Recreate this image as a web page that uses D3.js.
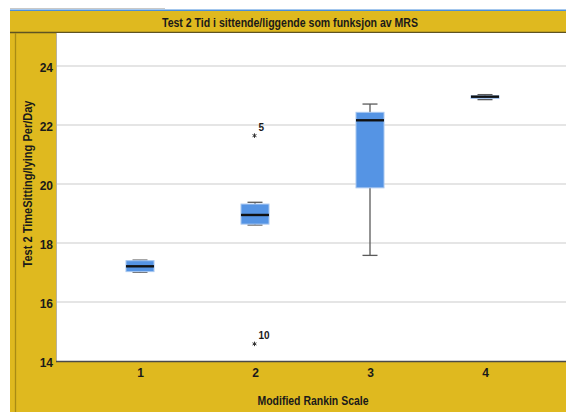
<!DOCTYPE html>
<html>
<head>
<meta charset="utf-8">
<script src="https://cdn.jsdelivr.net/npm/d3@7"></script>
<style>
  html, body { margin: 0; padding: 0; background: #ffffff; }
  svg { display: block; }
  text { font-family: "Liberation Sans", Arial, sans-serif; fill: #1a1a1a; }
</style>
</head>
<body>
<script>
// Modified Rankin Scale groups and five-number summaries per group
const categories = ["1", "2", "3", "4"];
const whiskerLow = [17.01, 18.61, 17.58, 22.86];
const quartile1 = [17.03, 18.64, 19.87, 22.90];
const medians = [17.21, 18.95, 22.16, 22.96];
const quartile3 = [17.40, 19.32, 22.43, 22.99];
const whiskerHigh = [17.42, 19.38, 22.71, 23.03];

// Extreme values (case numbers shown next to the markers)
const outlierCategories = ["2", "2"];
const outlierValues = [21.64, 14.58];
const outlierLabels = ["5", "10"];

const yTicks = [14, 16, 18, 20, 22, 24];

const titleText = "Test 2 Tid i sittende/liggende som funksjon av MRS";
const xTitleText = "Modified Rankin Scale";
const yTitleText = "Test 2 TimeSitting/lying Per/Day";

const W = 566, H = 412;
const frameColor = "#dfb91f";
const plot = { left: 57, right: 566, top: 33, bottom: 361 };

const svg = d3.select("body").append("svg").attr("width", W).attr("height", H);

svg.append("rect").attr("width", W).attr("height", H).attr("fill", "#ffffff");

// Outer yellow frame
svg.append("rect").attr("x", 10).attr("y", 11).attr("width", W - 10).attr("height", H - 11)
  .attr("fill", frameColor);
// Thin lines above the title bar
svg.append("line").attr("x1", 10).attr("x2", 165).attr("y1", 8.5).attr("y2", 8.5)
  .attr("stroke", "#c8c8c8").attr("stroke-width", 1);
svg.append("line").attr("x1", 10).attr("x2", W).attr("y1", 10.2).attr("y2", 10.2)
  .attr("stroke", "#4a8fdc").attr("stroke-width", 1.6);
// Title bar bottom edge
svg.append("line").attr("x1", 10).attr("x2", W).attr("y1", 32.5).attr("y2", 32.5)
  .attr("stroke", "#5e5322").attr("stroke-width", 1.5);
// Darker vertical rule in the left strip
svg.append("line").attr("x1", 15.5).attr("x2", 15.5).attr("y1", 33).attr("y2", H)
  .attr("stroke", "#a98c14").attr("stroke-width", 1.3);

// Plot area
svg.append("rect").attr("x", plot.left).attr("y", plot.top)
  .attr("width", plot.right - plot.left).attr("height", plot.bottom - plot.top)
  .attr("fill", "#ffffff");
svg.append("line").attr("x1", plot.left - 0.5).attr("x2", plot.left - 0.5)
  .attr("y1", plot.top).attr("y2", plot.bottom)
  .attr("stroke", "#b9b29a").attr("stroke-width", 1);

const y = d3.scaleLinear().domain([14, 24]).range([plot.bottom, 66]);
const x = d3.scalePoint().domain(categories).range([140, 485]);

// Horizontal gridlines
svg.append("g").selectAll("line").data(yTicks.filter(t => t > 14)).join("line")
  .attr("x1", plot.left).attr("x2", plot.right)
  .attr("y1", d => y(d)).attr("y2", d => y(d))
  .attr("stroke", "#dcdcdc").attr("stroke-width", 1.6);

// Bottom axis line
svg.append("line").attr("x1", plot.left - 1).attr("x2", plot.right)
  .attr("y1", plot.bottom + 0.5).attr("y2", plot.bottom + 0.5)
  .attr("stroke", "#4a4a4a").attr("stroke-width", 1.5);

// Y axis tick labels
const yAxis = d3.axisLeft(y).tickValues(yTicks).tickSize(0).tickPadding(0).tickFormat(d3.format("d"));
const gy = svg.append("g").attr("transform", `translate(53,2)`).call(yAxis);
gy.select(".domain").remove();
gy.selectAll("text").attr("font-size", 12).attr("font-weight", "bold")
  .attr("font-family", "Liberation Sans, Arial, sans-serif").attr("fill", "#1a1a1a");

// X axis tick labels
const xAxis = d3.axisBottom(x).tickSize(0).tickPadding(0);
const gx = svg.append("g").attr("transform", `translate(0,${plot.bottom + 7})`).call(xAxis);
gx.select(".domain").remove();
gx.selectAll("text").attr("font-size", 12).attr("font-weight", "bold")
  .attr("font-family", "Liberation Sans, Arial, sans-serif").attr("fill", "#1a1a1a");

// Box plots
const boxW = 28, capW = 15;
const groups = categories.map((c, i) => ({
  c, lo: whiskerLow[i], q1: quartile1[i], med: medians[i], q3: quartile3[i], hi: whiskerHigh[i]
}));
const g = svg.append("g").selectAll("g").data(groups).join("g");

g.append("line")
  .attr("x1", d => x(d.c)).attr("x2", d => x(d.c))
  .attr("y1", d => y(d.hi)).attr("y2", d => y(d.lo))
  .attr("stroke", "#5a5a5a").attr("stroke-width", 1.3);
g.append("line")
  .attr("x1", d => x(d.c) - capW / 2).attr("x2", d => x(d.c) + capW / 2)
  .attr("y1", d => y(d.hi)).attr("y2", d => y(d.hi))
  .attr("stroke", "#5a5a5a").attr("stroke-width", 1.3);
g.append("line")
  .attr("x1", d => x(d.c) - capW / 2).attr("x2", d => x(d.c) + capW / 2)
  .attr("y1", d => y(d.lo)).attr("y2", d => y(d.lo))
  .attr("stroke", "#5a5a5a").attr("stroke-width", 1.3);
g.append("rect")
  .attr("x", d => x(d.c) - boxW / 2).attr("width", boxW)
  .attr("y", d => y(d.q3)).attr("height", d => Math.max(y(d.q1) - y(d.q3), 1))
  .attr("fill", "#5594e4").attr("stroke", "#a8c7f0").attr("stroke-width", 1);
g.append("line")
  .attr("x1", d => x(d.c) - boxW / 2).attr("x2", d => x(d.c) + boxW / 2)
  .attr("y1", d => y(d.med)).attr("y2", d => y(d.med))
  .attr("stroke", "#111111").attr("stroke-width", 2.4);

// Extreme value markers and case labels
const outliers = outlierValues.map((v, i) => ({ c: outlierCategories[i], v, label: outlierLabels[i] }));
const og = svg.append("g").selectAll("g").data(outliers).join("g")
  .attr("transform", d => `translate(${x(d.c) - 0.5},${y(d.v)})`);
og.append("path")
  .attr("d", d3.symbol(d3.symbolAsterisk || d3.symbolStar, 14))
  .attr("fill", "none").attr("stroke", "#333333").attr("stroke-width", 1);
og.append("text")
  .attr("x", 4).attr("y", -5)
  .attr("font-size", 10).attr("font-weight", "bold")
  .text(d => d.label);

// Titles
svg.append("text").attr("x", 290).attr("y", 26.5).attr("text-anchor", "middle")
  .attr("font-size", 12).attr("font-weight", "bold")
  .attr("textLength", 256).attr("lengthAdjust", "spacingAndGlyphs")
  .text(titleText);

svg.append("text").attr("x", 313).attr("y", 405).attr("text-anchor", "middle")
  .attr("font-size", 12).attr("font-weight", "bold")
  .attr("textLength", 111).attr("lengthAdjust", "spacingAndGlyphs")
  .text(xTitleText);

svg.append("text")
  .attr("transform", "translate(32,184) rotate(-90)")
  .attr("text-anchor", "middle")
  .attr("font-size", 12).attr("font-weight", "bold")
  .attr("textLength", 167).attr("lengthAdjust", "spacingAndGlyphs")
  .text(yTitleText);
</script>
</body>
</html>
